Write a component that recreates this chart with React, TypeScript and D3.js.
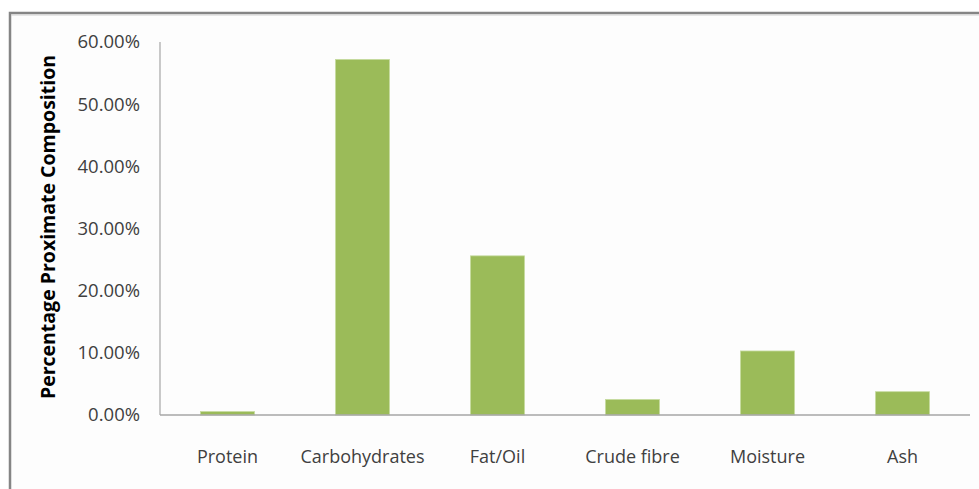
import React from "react";
import * as d3 from "d3";

const categories = ["Protein", "Carbohydrates", "Fat/Oil", "Crude fibre", "Moisture", "Ash"];
const values = [0.55, 57.2, 25.6, 2.5, 10.3, 3.75];
const yTicks = [0, 10, 20, 30, 40, 50, 60];

const App = () => {
  const width = 979;
  const height = 489;
  const plot = { left: 160, right: 970, top: 42, bottom: 415 };

  const x = d3
    .scaleBand<string>()
    .domain(categories)
    .range([plot.left, plot.right])
    .paddingInner(0.6)
    .paddingOuter(0.3);

  const y = d3.scaleLinear().domain([0, 60]).range([plot.bottom, plot.top]);

  const font = "'Open Sans', Calibri, sans-serif";

  return (
    <svg
      width={width}
      height={height}
      style={{ position: "absolute", left: 0, top: 0, background: "#ffffff" }}
    >
      {/* chart frame, runs off the right and bottom */}
      <rect x={10} y={13} width={1000} height={1000} fill="#fdfdfd" stroke="#858585" strokeWidth={2.5} />
      <line x1={11} x2={979} y1={15} y2={15} stroke="#d0d0d0" strokeWidth={1} />

      {/* bars */}
      {categories.map((c, i) => (
        <rect
          key={c}
          x={x(c)}
          y={y(values[i])}
          width={x.bandwidth()}
          height={plot.bottom - y(values[i])}
          fill="#9bbb59"
          stroke="#c6dba0"
          strokeWidth={0.8}
        />
      ))}

      {/* axes */}
      <line x1={plot.left} x2={plot.left} y1={plot.top} y2={plot.bottom} stroke="#a6a6a6" strokeWidth={1.2} />
      <line x1={plot.left} x2={plot.right} y1={plot.bottom} y2={plot.bottom} stroke="#a6a6a6" strokeWidth={1.5} />

      {yTicks.map((t) => (
        <text
          key={t}
          x={140}
          y={y(t)}
          dy="0.35em"
          textAnchor="end"
          fontFamily={font}
          fontSize={18.5}
          fill="#404040"
        >
          {t.toFixed(2) + "%"}
        </text>
      ))}

      {categories.map((c) => (
        <text
          key={c}
          x={(x(c) as number) + x.bandwidth() / 2}
          y={457}
          dy="0.35em"
          textAnchor="middle"
          fontFamily={font}
          fontSize={18}
          fill="#404040"
        >
          {c}
        </text>
      ))}

      <text
        transform="translate(48,227) rotate(-90)"
        textAnchor="middle"
        dy="0.35em"
        fontFamily={font}
        fontSize={19.5}
        fontWeight="bold"
        fill="#000000"
      >
        Percentage Proximate Composition
      </text>
    </svg>
  );
};

export default App;
